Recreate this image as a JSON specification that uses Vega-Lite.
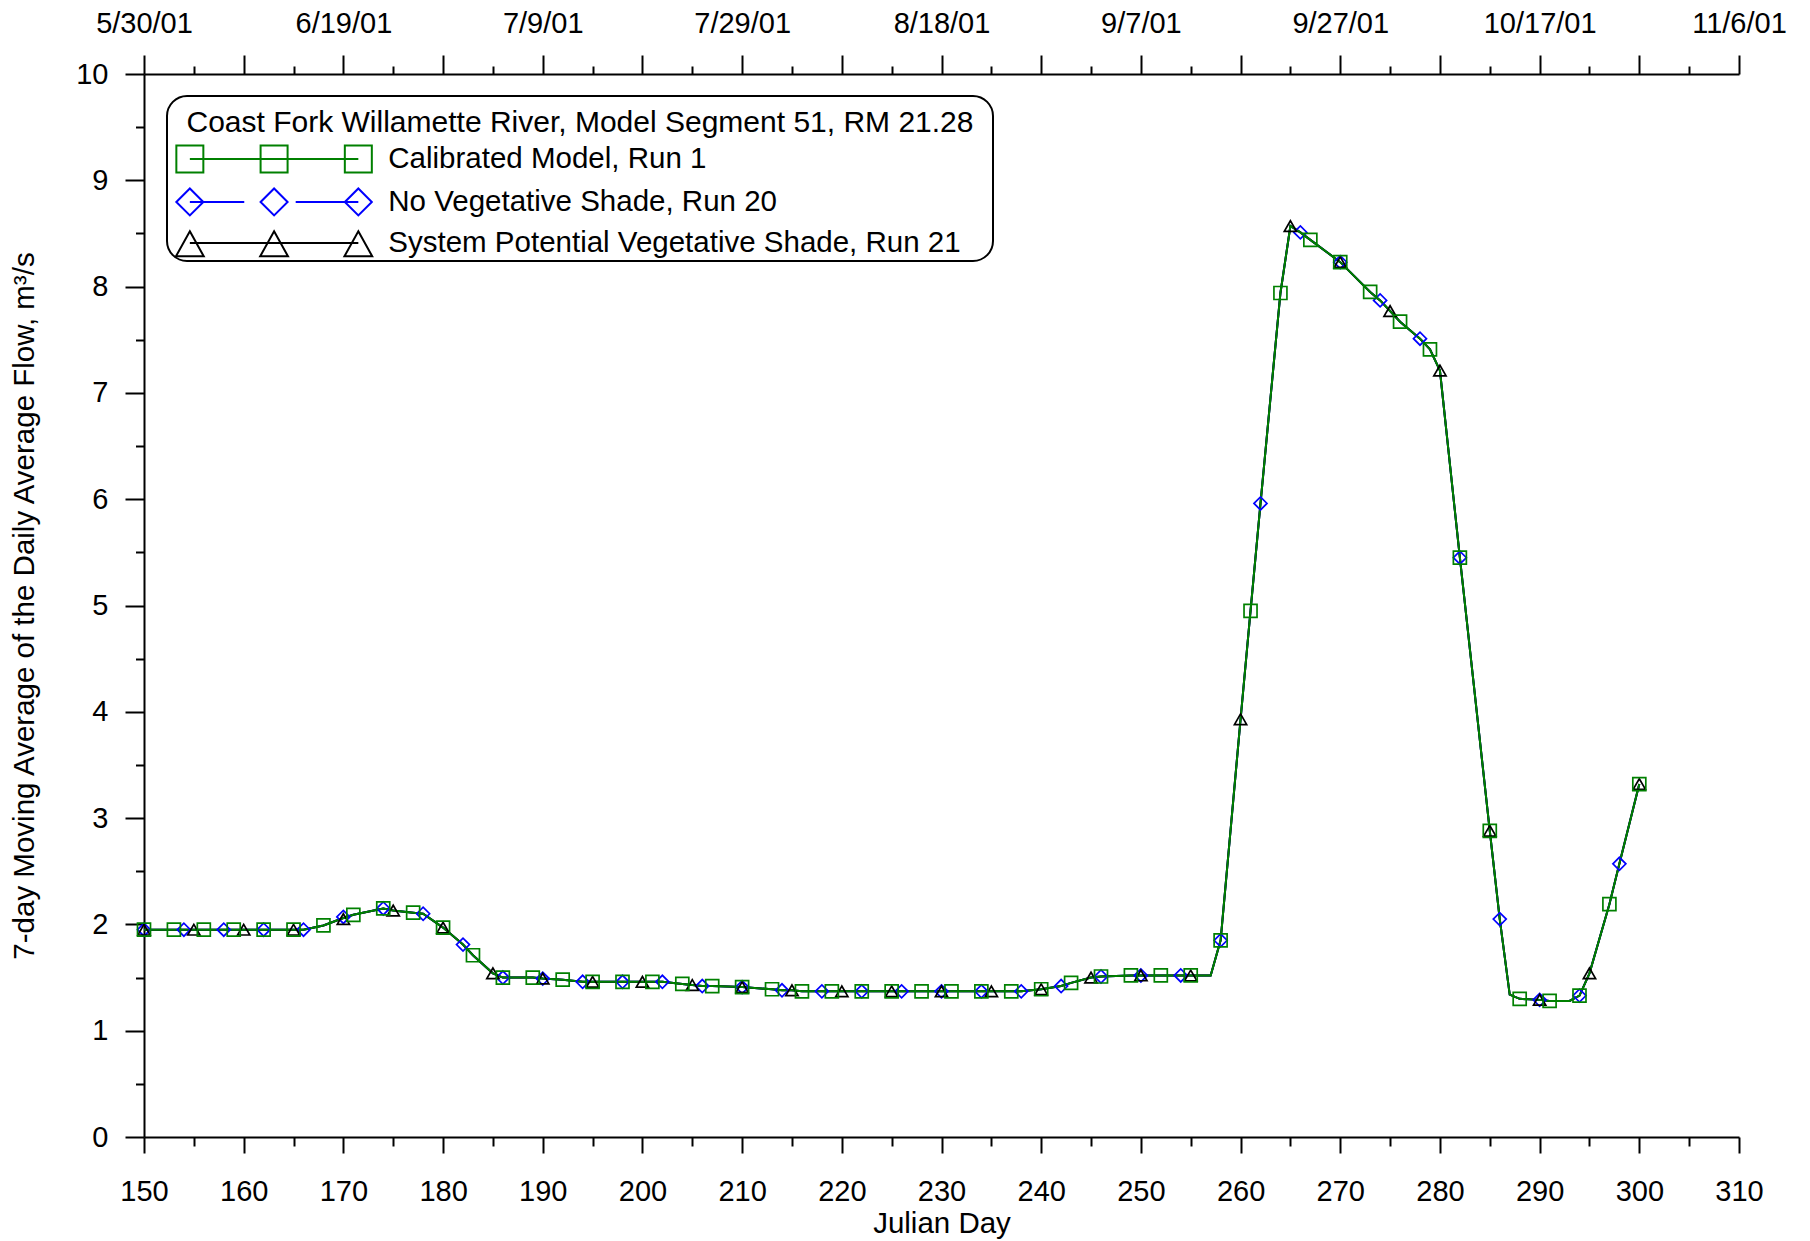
{
  "$schema": "https://vega.github.io/schema/vega-lite/v6.json",
  "autosize": {"type": "none"},
  "padding": {"left": 144, "top": 74, "right": 71, "bottom": 104},
  "width": 1595,
  "height": 1063,
  "config": {
    "font": "Liberation Sans",
    "view": {"stroke": null},
    "axis": {
      "grid": false,
      "labelFont": "Liberation Sans",
      "labelFontSize": 29,
      "labelColor": "#000000",
      "titleFont": "Liberation Sans",
      "titleFontSize": 29.5,
      "titleFontWeight": "normal",
      "titleColor": "#000000",
      "domainColor": "#000000",
      "domainWidth": 2,
      "tickColor": "#000000",
      "tickWidth": 2,
      "labelOverlap": false,
      "labelFlush": false,
      "labelBound": false
    },
    "legend": {
      "orient": "none", "legendX": 23, "legendY": 22,
      "direction": "vertical",
      "padding": 0,
      "cornerRadius": 20,
      "strokeColor": "#000000",
      "strokeWidth": 2,
      "fillColor": "#ffffff",
      "titleFont": "Liberation Sans", "titleFontSize": 30, "titleFontWeight": "normal", "titleColor": "#000000",
      "titleLimit": 2000, "titlePadding": 6, "titleAnchor": "middle", "titleLineHeight": 12.2,
      "labelFont": "Liberation Sans", "labelFontSize": 29.5, "labelColor": "#000000", "labelLimit": 2000,
      "labelOffset": 183.7,
      "symbolSize": 729, "symbolStrokeWidth": 2, "symbolOffset": 8.1, "symbolOpacity": 1,
      "rowPadding": 7
    }
  },
  "datasets": {
    "daily": [
      {"day": 150, "flow": 1.95}, {"day": 153, "flow": 1.95}, {"day": 154, "flow": 1.95}, {"day": 155, "flow": 1.95},
      {"day": 156, "flow": 1.95}, {"day": 158, "flow": 1.95}, {"day": 159, "flow": 1.95}, {"day": 160, "flow": 1.95},
      {"day": 162, "flow": 1.95}, {"day": 165, "flow": 1.95}, {"day": 166, "flow": 1.95}, {"day": 168, "flow": 1.99},
      {"day": 170, "flow": 2.06}, {"day": 171, "flow": 2.09}, {"day": 174, "flow": 2.15}, {"day": 175, "flow": 2.13},
      {"day": 177, "flow": 2.11}, {"day": 178, "flow": 2.10}, {"day": 180, "flow": 1.97}, {"day": 182, "flow": 1.81},
      {"day": 183, "flow": 1.71}, {"day": 185, "flow": 1.54}, {"day": 186, "flow": 1.50}, {"day": 189, "flow": 1.50},
      {"day": 190, "flow": 1.49}, {"day": 192, "flow": 1.48}, {"day": 194, "flow": 1.46}, {"day": 195, "flow": 1.46},
      {"day": 198, "flow": 1.46}, {"day": 200, "flow": 1.46}, {"day": 201, "flow": 1.46}, {"day": 202, "flow": 1.46},
      {"day": 204, "flow": 1.44}, {"day": 205, "flow": 1.43}, {"day": 206, "flow": 1.42}, {"day": 207, "flow": 1.42},
      {"day": 210, "flow": 1.41}, {"day": 213, "flow": 1.39}, {"day": 214, "flow": 1.38}, {"day": 215, "flow": 1.38},
      {"day": 216, "flow": 1.37}, {"day": 218, "flow": 1.37}, {"day": 219, "flow": 1.37}, {"day": 220, "flow": 1.37},
      {"day": 222, "flow": 1.37}, {"day": 225, "flow": 1.37}, {"day": 226, "flow": 1.37}, {"day": 228, "flow": 1.37},
      {"day": 230, "flow": 1.37}, {"day": 231, "flow": 1.37}, {"day": 234, "flow": 1.37}, {"day": 235, "flow": 1.37},
      {"day": 237, "flow": 1.37}, {"day": 238, "flow": 1.37}, {"day": 240, "flow": 1.39}, {"day": 242, "flow": 1.42},
      {"day": 243, "flow": 1.45}, {"day": 245, "flow": 1.50}, {"day": 246, "flow": 1.51}, {"day": 249, "flow": 1.52},
      {"day": 250, "flow": 1.52}, {"day": 252, "flow": 1.52}, {"day": 254, "flow": 1.52}, {"day": 255, "flow": 1.52},
      {"day": 257, "flow": 1.52}, {"day": 258, "flow": 1.85}, {"day": 260, "flow": 3.93}, {"day": 261, "flow": 4.95},
      {"day": 262, "flow": 5.96}, {"day": 264, "flow": 7.94}, {"day": 265, "flow": 8.57}, {"day": 266, "flow": 8.51},
      {"day": 267, "flow": 8.44}, {"day": 270, "flow": 8.23}, {"day": 273, "flow": 7.95}, {"day": 274, "flow": 7.87},
      {"day": 275, "flow": 7.77}, {"day": 276, "flow": 7.67}, {"day": 278, "flow": 7.51}, {"day": 279, "flow": 7.41},
      {"day": 280, "flow": 7.21}, {"day": 282, "flow": 5.45}, {"day": 285, "flow": 2.88}, {"day": 286, "flow": 2.05},
      {"day": 287, "flow": 1.34}, {"day": 288, "flow": 1.30}, {"day": 290, "flow": 1.29}, {"day": 291, "flow": 1.28},
      {"day": 293, "flow": 1.28}, {"day": 294, "flow": 1.33}, {"day": 295, "flow": 1.54}, {"day": 297, "flow": 2.19},
      {"day": 298, "flow": 2.57}, {"day": 300, "flow": 3.32}
    ],
    "markers": [
      {"run": "No Vegetative Shade, Run 20", "day": 150, "flow": 1.95},
      {"run": "No Vegetative Shade, Run 20", "day": 154, "flow": 1.95},
      {"run": "No Vegetative Shade, Run 20", "day": 158, "flow": 1.95},
      {"run": "No Vegetative Shade, Run 20", "day": 162, "flow": 1.95},
      {"run": "No Vegetative Shade, Run 20", "day": 166, "flow": 1.95},
      {"run": "No Vegetative Shade, Run 20", "day": 170, "flow": 2.07},
      {"run": "No Vegetative Shade, Run 20", "day": 174, "flow": 2.15},
      {"run": "No Vegetative Shade, Run 20", "day": 178, "flow": 2.10},
      {"run": "No Vegetative Shade, Run 20", "day": 182, "flow": 1.81},
      {"run": "No Vegetative Shade, Run 20", "day": 186, "flow": 1.50},
      {"run": "No Vegetative Shade, Run 20", "day": 190, "flow": 1.49},
      {"run": "No Vegetative Shade, Run 20", "day": 194, "flow": 1.46},
      {"run": "No Vegetative Shade, Run 20", "day": 198, "flow": 1.46},
      {"run": "No Vegetative Shade, Run 20", "day": 202, "flow": 1.46},
      {"run": "No Vegetative Shade, Run 20", "day": 206, "flow": 1.42},
      {"run": "No Vegetative Shade, Run 20", "day": 210, "flow": 1.41},
      {"run": "No Vegetative Shade, Run 20", "day": 214, "flow": 1.38},
      {"run": "No Vegetative Shade, Run 20", "day": 218, "flow": 1.37},
      {"run": "No Vegetative Shade, Run 20", "day": 222, "flow": 1.37},
      {"run": "No Vegetative Shade, Run 20", "day": 226, "flow": 1.37},
      {"run": "No Vegetative Shade, Run 20", "day": 230, "flow": 1.37},
      {"run": "No Vegetative Shade, Run 20", "day": 234, "flow": 1.37},
      {"run": "No Vegetative Shade, Run 20", "day": 238, "flow": 1.37},
      {"run": "No Vegetative Shade, Run 20", "day": 242, "flow": 1.42},
      {"run": "No Vegetative Shade, Run 20", "day": 246, "flow": 1.51},
      {"run": "No Vegetative Shade, Run 20", "day": 250, "flow": 1.52},
      {"run": "No Vegetative Shade, Run 20", "day": 254, "flow": 1.52},
      {"run": "No Vegetative Shade, Run 20", "day": 258, "flow": 1.85},
      {"run": "No Vegetative Shade, Run 20", "day": 262, "flow": 5.96},
      {"run": "No Vegetative Shade, Run 20", "day": 266, "flow": 8.51},
      {"run": "No Vegetative Shade, Run 20", "day": 270, "flow": 8.23},
      {"run": "No Vegetative Shade, Run 20", "day": 274, "flow": 7.87},
      {"run": "No Vegetative Shade, Run 20", "day": 278, "flow": 7.51},
      {"run": "No Vegetative Shade, Run 20", "day": 282, "flow": 5.45},
      {"run": "No Vegetative Shade, Run 20", "day": 286, "flow": 2.05},
      {"run": "No Vegetative Shade, Run 20", "day": 290, "flow": 1.29},
      {"run": "No Vegetative Shade, Run 20", "day": 294, "flow": 1.33},
      {"run": "No Vegetative Shade, Run 20", "day": 298, "flow": 2.57},
      {"run": "System Potential Vegetative Shade, Run 21", "day": 150, "flow": 1.95},
      {"run": "System Potential Vegetative Shade, Run 21", "day": 155, "flow": 1.95},
      {"run": "System Potential Vegetative Shade, Run 21", "day": 160, "flow": 1.95},
      {"run": "System Potential Vegetative Shade, Run 21", "day": 165, "flow": 1.95},
      {"run": "System Potential Vegetative Shade, Run 21", "day": 170, "flow": 2.05},
      {"run": "System Potential Vegetative Shade, Run 21", "day": 175, "flow": 2.13},
      {"run": "System Potential Vegetative Shade, Run 21", "day": 180, "flow": 1.97},
      {"run": "System Potential Vegetative Shade, Run 21", "day": 185, "flow": 1.54},
      {"run": "System Potential Vegetative Shade, Run 21", "day": 190, "flow": 1.49},
      {"run": "System Potential Vegetative Shade, Run 21", "day": 195, "flow": 1.46},
      {"run": "System Potential Vegetative Shade, Run 21", "day": 200, "flow": 1.46},
      {"run": "System Potential Vegetative Shade, Run 21", "day": 205, "flow": 1.43},
      {"run": "System Potential Vegetative Shade, Run 21", "day": 210, "flow": 1.41},
      {"run": "System Potential Vegetative Shade, Run 21", "day": 215, "flow": 1.38},
      {"run": "System Potential Vegetative Shade, Run 21", "day": 220, "flow": 1.37},
      {"run": "System Potential Vegetative Shade, Run 21", "day": 225, "flow": 1.37},
      {"run": "System Potential Vegetative Shade, Run 21", "day": 230, "flow": 1.37},
      {"run": "System Potential Vegetative Shade, Run 21", "day": 235, "flow": 1.37},
      {"run": "System Potential Vegetative Shade, Run 21", "day": 240, "flow": 1.39},
      {"run": "System Potential Vegetative Shade, Run 21", "day": 245, "flow": 1.50},
      {"run": "System Potential Vegetative Shade, Run 21", "day": 250, "flow": 1.52},
      {"run": "System Potential Vegetative Shade, Run 21", "day": 255, "flow": 1.52},
      {"run": "System Potential Vegetative Shade, Run 21", "day": 260, "flow": 3.93},
      {"run": "System Potential Vegetative Shade, Run 21", "day": 265, "flow": 8.57},
      {"run": "System Potential Vegetative Shade, Run 21", "day": 270, "flow": 8.23},
      {"run": "System Potential Vegetative Shade, Run 21", "day": 275, "flow": 7.77},
      {"run": "System Potential Vegetative Shade, Run 21", "day": 280, "flow": 7.21},
      {"run": "System Potential Vegetative Shade, Run 21", "day": 285, "flow": 2.88},
      {"run": "System Potential Vegetative Shade, Run 21", "day": 290, "flow": 1.29},
      {"run": "System Potential Vegetative Shade, Run 21", "day": 295, "flow": 1.54},
      {"run": "System Potential Vegetative Shade, Run 21", "day": 300, "flow": 3.32},
      {"run": "Calibrated Model, Run 1", "day": 150, "flow": 1.95},
      {"run": "Calibrated Model, Run 1", "day": 153, "flow": 1.95},
      {"run": "Calibrated Model, Run 1", "day": 156, "flow": 1.95},
      {"run": "Calibrated Model, Run 1", "day": 159, "flow": 1.95},
      {"run": "Calibrated Model, Run 1", "day": 162, "flow": 1.95},
      {"run": "Calibrated Model, Run 1", "day": 165, "flow": 1.95},
      {"run": "Calibrated Model, Run 1", "day": 168, "flow": 1.99},
      {"run": "Calibrated Model, Run 1", "day": 171, "flow": 2.09},
      {"run": "Calibrated Model, Run 1", "day": 174, "flow": 2.15},
      {"run": "Calibrated Model, Run 1", "day": 177, "flow": 2.11},
      {"run": "Calibrated Model, Run 1", "day": 180, "flow": 1.97},
      {"run": "Calibrated Model, Run 1", "day": 183, "flow": 1.71},
      {"run": "Calibrated Model, Run 1", "day": 186, "flow": 1.50},
      {"run": "Calibrated Model, Run 1", "day": 189, "flow": 1.50},
      {"run": "Calibrated Model, Run 1", "day": 192, "flow": 1.48},
      {"run": "Calibrated Model, Run 1", "day": 195, "flow": 1.46},
      {"run": "Calibrated Model, Run 1", "day": 198, "flow": 1.46},
      {"run": "Calibrated Model, Run 1", "day": 201, "flow": 1.46},
      {"run": "Calibrated Model, Run 1", "day": 204, "flow": 1.44},
      {"run": "Calibrated Model, Run 1", "day": 207, "flow": 1.42},
      {"run": "Calibrated Model, Run 1", "day": 210, "flow": 1.41},
      {"run": "Calibrated Model, Run 1", "day": 213, "flow": 1.39},
      {"run": "Calibrated Model, Run 1", "day": 216, "flow": 1.37},
      {"run": "Calibrated Model, Run 1", "day": 219, "flow": 1.37},
      {"run": "Calibrated Model, Run 1", "day": 222, "flow": 1.37},
      {"run": "Calibrated Model, Run 1", "day": 225, "flow": 1.37},
      {"run": "Calibrated Model, Run 1", "day": 228, "flow": 1.37},
      {"run": "Calibrated Model, Run 1", "day": 231, "flow": 1.37},
      {"run": "Calibrated Model, Run 1", "day": 234, "flow": 1.37},
      {"run": "Calibrated Model, Run 1", "day": 237, "flow": 1.37},
      {"run": "Calibrated Model, Run 1", "day": 240, "flow": 1.39},
      {"run": "Calibrated Model, Run 1", "day": 243, "flow": 1.45},
      {"run": "Calibrated Model, Run 1", "day": 246, "flow": 1.51},
      {"run": "Calibrated Model, Run 1", "day": 249, "flow": 1.52},
      {"run": "Calibrated Model, Run 1", "day": 252, "flow": 1.52},
      {"run": "Calibrated Model, Run 1", "day": 255, "flow": 1.52},
      {"run": "Calibrated Model, Run 1", "day": 258, "flow": 1.85},
      {"run": "Calibrated Model, Run 1", "day": 261, "flow": 4.95},
      {"run": "Calibrated Model, Run 1", "day": 264, "flow": 7.94},
      {"run": "Calibrated Model, Run 1", "day": 267, "flow": 8.44},
      {"run": "Calibrated Model, Run 1", "day": 270, "flow": 8.23},
      {"run": "Calibrated Model, Run 1", "day": 273, "flow": 7.95},
      {"run": "Calibrated Model, Run 1", "day": 276, "flow": 7.67},
      {"run": "Calibrated Model, Run 1", "day": 279, "flow": 7.41},
      {"run": "Calibrated Model, Run 1", "day": 282, "flow": 5.45},
      {"run": "Calibrated Model, Run 1", "day": 285, "flow": 2.88},
      {"run": "Calibrated Model, Run 1", "day": 288, "flow": 1.30},
      {"run": "Calibrated Model, Run 1", "day": 291, "flow": 1.28},
      {"run": "Calibrated Model, Run 1", "day": 294, "flow": 1.33},
      {"run": "Calibrated Model, Run 1", "day": 297, "flow": 2.19},
      {"run": "Calibrated Model, Run 1", "day": 300, "flow": 3.32}
    ]
  },
  "resolve": {"axis": {"x": "independent", "y": "independent"}, "scale": {"x": "shared", "y": "shared"}},
  "layer": [
    {
      "data": {"name": "daily"},
      "mark": {"type": "line", "stroke": "#0000FF", "strokeWidth": 2},
      "encoding": {
        "x": {"field": "day", "type": "quantitative", "scale": {"domain": [150, 310], "nice": false, "zero": false},
          "axis": {"orient": "bottom", "values": [150,160,170,180,190,200,210,220,230,240,250,260,270,280,290,300,310],
            "tickSize": 16, "labelPadding": 24, "title": "Julian Day", "titlePadding": 3}},
        "y": {"field": "flow", "type": "quantitative", "scale": {"domain": [0, 10], "nice": false, "zero": true},
          "axis": {"orient": "left", "values": [0,1,2,3,4,5,6,7,8,9,10], "tickSize": 19, "labelPadding": 17,
            "title": "7-day Moving Average of the Daily Average Flow, m³/s", "titlePadding": 36}}
      }
    },
    {
      "data": {"name": "daily"},
      "mark": {"type": "line", "stroke": "#000000", "strokeWidth": 2},
      "encoding": {
        "x": {"field": "day", "type": "quantitative",
          "axis": {"orient": "bottom", "values": [155,165,175,185,195,205,215,225,235,245,255,265,275,285,295,305],
            "tickSize": 9, "labels": false, "domain": false, "title": null}},
        "y": {"field": "flow", "type": "quantitative",
          "axis": {"orient": "left", "values": [0.5,1.5,2.5,3.5,4.5,5.5,6.5,7.5,8.5,9.5], "tickSize": 8.5,
            "labels": false, "domain": false, "title": null}}
      }
    },
    {
      "data": {"name": "daily"},
      "mark": {"type": "line", "stroke": "#008000", "strokeWidth": 2},
      "encoding": {
        "x": {"field": "day", "type": "quantitative",
          "axis": {"orient": "top", "values": [150,160,170,180,190,200,210,220,230,240,250,260,270,280,290,300,310],
            "tickSize": 19, "labelPadding": 17, "title": null,
            "labelExpr": "(datum.value - 150) % 20 == 0 ? timeFormat(datetime(2001, 0, datum.value), '%-m/%-d/%y') : ''"}},
        "y": {"field": "flow", "type": "quantitative", "axis": null}
      }
    },
    {
      "data": {"name": "markers"},
      "transform": [{"filter": "datum.run === 'No Vegetative Shade, Run 20'"}],
      "mark": {"type": "point", "shape": "diamond", "color": "#0000FF", "filled": false, "size": 169, "strokeWidth": 1.7, "opacity": 1},
      "encoding": {
        "x": {"field": "day", "type": "quantitative",
          "axis": {"orient": "top", "values": [155,165,175,185,195,205,215,225,235,245,255,265,275,285,295,305],
            "tickSize": 8, "labels": false, "domain": false, "title": null}},
        "y": {"field": "flow", "type": "quantitative", "axis": null}
      }
    },
    {
      "data": {"name": "markers"},
      "transform": [{"filter": "datum.run === 'System Potential Vegetative Shade, Run 21'"}],
      "mark": {"type": "point", "shape": "triangle-up", "color": "#000000", "filled": false, "size": 150, "strokeWidth": 1.7, "opacity": 1},
      "encoding": {
        "x": {"field": "day", "type": "quantitative", "axis": null},
        "y": {"field": "flow", "type": "quantitative", "axis": null}
      }
    },
    {
      "data": {"name": "markers"},
      "transform": [{"filter": "datum.run === 'Calibrated Model, Run 1'"}],
      "mark": {"type": "point", "shape": "square", "color": "#008000", "filled": false, "size": 169, "strokeWidth": 1.7, "opacity": 1},
      "encoding": {
        "x": {"field": "day", "type": "quantitative", "axis": null},
        "y": {"field": "flow", "type": "quantitative", "axis": null}
      }
    },
    {
      "data": {"name": "markers"},
      "mark": {"type": "point", "filled": false, "strokeWidth": 2, "opacity": 0},
      "encoding": {
        "x": {"field": "day", "type": "quantitative", "axis": null},
        "y": {"field": "flow", "type": "quantitative", "axis": null},
        "color": {"field": "run", "type": "nominal",
          "scale": {"domain": ["Calibrated Model, Run 1", "No Vegetative Shade, Run 20", "System Potential Vegetative Shade, Run 21"],
            "range": ["#008000", "#0000FF", "#000000"]},
          "legend": {"title": ["", "Coast Fork Willamette River, Model Segment 51, RM 21.28"]}},
        "shape": {"field": "run", "type": "nominal",
          "scale": {"domain": ["Calibrated Model, Run 1", "No Vegetative Shade, Run 20", "System Potential Vegetative Shade, Run 21"],
            "range": [
              "M-1,-1H1V1H-1Z M5.24,-1H7.24V1H5.24Z M11.48,-1H13.48V1H11.48Z M0,0H12.48 M59.15,0",
              "M-1,0L0,-1L1,0L0,1Z M5.24,0L6.24,-1L7.24,0L6.24,1Z M11.48,0L12.48,-1L13.48,0L12.48,1Z M0,0H4.03 M7.84,0H12.48 M59.15,0",
              "M0,-0.87L1.03,0.99L-1.03,0.99Z M6.24,-0.87L7.27,0.99L5.21,0.99Z M12.48,-0.87L13.51,0.99L11.45,0.99Z M0,0H12.48 M59.15,0"
            ]},
          "legend": {"title": ["", "Coast Fork Willamette River, Model Segment 51, RM 21.28"]}}
      }
    }
  ]
}
